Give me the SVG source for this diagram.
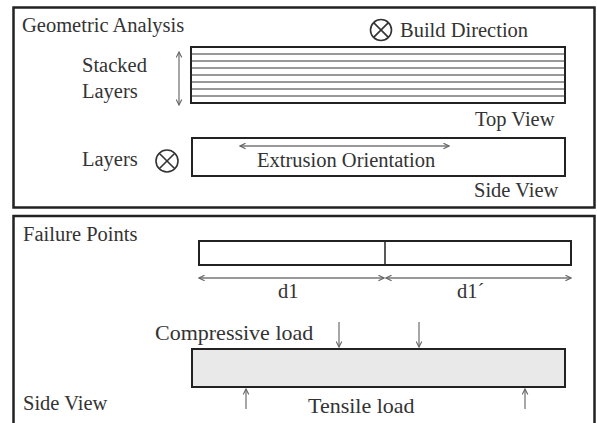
<svg xmlns="http://www.w3.org/2000/svg" width="597" height="423" viewBox="0 0 597 423">
<defs>
<marker id="ah" viewBox="0 0 10 10" refX="9" refY="5" markerWidth="7" markerHeight="7" markerUnits="userSpaceOnUse" orient="auto-start-reverse">
<path d="M1,1 L9,5 L1,9" fill="none" stroke="#666" stroke-width="1.6"/>
</marker>
</defs>
<style>
text{font-family:"Liberation Serif","Times New Roman",serif;fill:#333;font-size:20.5px}
.big{font-size:22px}
.panel{fill:#fff;stroke:#222;stroke-width:2.5}
.box{fill:#fff;stroke:#222;stroke-width:2}
.gbox{fill:#e9e9e9;stroke:#222;stroke-width:2}
.lay{stroke:#333;stroke-width:1}
.arr{stroke:#777;stroke-width:1.3;fill:none;marker-end:url(#ah)}
.darr{stroke:#777;stroke-width:1.3;fill:none;marker-start:url(#ah);marker-end:url(#ah)}
.ox{fill:none;stroke:#333;stroke-width:1.6}
</style>
<rect width="597" height="423" fill="#fff"/>
<g id="panel-geometric">
<rect class="panel" x="13.5" y="7.5" width="581" height="200"/>
<text x="22" y="32">Geometric Analysis</text>
</g>
<g id="build-direction">
<circle class="ox" cx="381" cy="30" r="10.5"/>
<path class="ox" d="M373.6,22.6 L388.4,37.4 M388.4,22.6 L373.6,37.4"/>
<text x="400" y="37">Build Direction</text>
</g>
<g id="top-view">
<rect class="box" x="191" y="47" width="374" height="56"/>
<path class="lay" d="M191,54 H565 M191,61 H565 M191,68 H565 M191,75 H565 M191,82 H565 M191,89 H565 M191,96 H565"/>
<text x="475" y="126">Top View</text>
</g>
<g id="stacked-layers">
<text x="82" y="72">Stacked</text>
<text x="82" y="98">Layers</text>
</g>
<g id="layers-side">
<text x="82" y="166">Layers</text>
<circle class="ox" cx="167" cy="161" r="11"/>
<path class="ox" d="M159.2,153.2 L174.8,168.8 M174.8,153.2 L159.2,168.8"/>
</g>
<g id="side-view-top">
<rect class="box" x="192" y="138" width="373" height="38"/>
<text x="257" y="167">Extrusion Orientation</text>
<text x="474" y="197">Side View</text>
</g>
<g id="panel-failure">
<rect class="panel" x="13.5" y="216" width="581" height="220"/>
<text x="23" y="241">Failure Points</text>
<text x="23" y="410">Side View</text>
</g>
<g id="failure-bar">
<rect class="box" x="199" y="241" width="372" height="24"/>
<line x1="385" y1="241" x2="385" y2="265" stroke="#222" stroke-width="1.5"/>
<text x="278" y="298">d1</text>
<text x="457" y="298">d1´</text>
</g>
<g id="load-bar">
<rect class="gbox" x="192" y="349" width="373" height="38"/>
<text class="big" x="155" y="340">Compressive load</text>
<text class="big" x="308" y="413">Tensile load</text>
</g>
<g id="connectors">
<line class="darr" x1="179" y1="52" x2="179" y2="105"/>
<line class="darr" x1="240" y1="146" x2="449" y2="146"/>
<line class="darr" x1="199" y1="278" x2="384" y2="278"/>
<line class="darr" x1="386" y1="278" x2="571" y2="278"/>
<line class="arr" x1="339" y1="322" x2="339" y2="347"/>
<line class="arr" x1="419" y1="322" x2="419" y2="347"/>
<line class="arr" x1="246" y1="409" x2="246" y2="389"/>
<line class="arr" x1="525" y1="409" x2="525" y2="389"/>
</g>
</svg>
